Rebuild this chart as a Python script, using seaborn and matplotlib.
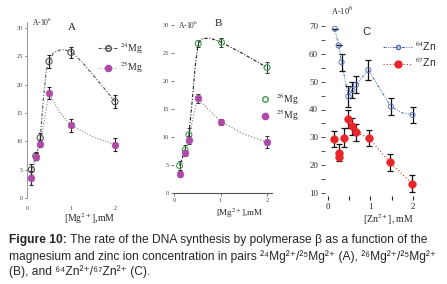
import matplotlib
matplotlib.use('Agg')
import matplotlib.pyplot as plt
import seaborn as sns
from matplotlib.lines import Line2D

sns.set_style('ticks')
plt.rcParams['font.family'] = ['Liberation Serif', 'DejaVu Serif']
plt.rcParams['mathtext.fontset'] = 'stix'

# ---- data ----
# panel A: 24Mg / 25Mg
a_x = [0.1, 0.2, 0.3, 0.5, 1.0, 2.0]
a_mg24 = [5.0, 7.4, 10.6, 24.1, 25.7, 17.0]
a_mg24_err = [1.0, 0.7, 0.8, 1.1, 1.0, 1.2]
a_mg25 = [3.5, 7.3, 9.6, 18.5, 12.8, 9.4]
a_mg25_err = [1.2, 0.6, 0.6, 1.1, 1.1, 1.1]
a_fit24_x = [0.1, 0.2, 0.3, 0.37, 0.44, 0.5, 0.6, 0.78, 1.0, 1.25, 1.5, 1.75, 2.0]
a_fit24_y = [5.0, 7.3, 10.5, 17.3, 22.6, 24.0, 25.6, 26.2, 25.9, 24.0, 21.7, 19.4, 17.0]
a_fit25_x = [0.1, 0.2, 0.3, 0.5, 0.75, 1.0, 1.5, 2.0]
a_fit25_y = [3.5, 7.3, 9.6, 18.5, 15.0, 12.8, 10.8, 9.4]

# panel B: 26Mg / 25Mg
b_x = [0.12, 0.24, 0.32, 0.52, 1.02, 2.0]
b_mg26 = [4.9, 7.7, 10.4, 26.7, 26.9, 22.4]
b_mg26_err = [0.8, 0.8, 1.2, 0.6, 0.8, 1.0]
b_mg25 = [3.4, 7.1, 9.5, 16.9, 12.7, 9.1]
b_mg25_err = [0.5, 0.5, 0.7, 0.8, 0.6, 1.0]
b_fit26_x = [0.12, 0.24, 0.32, 0.4, 0.46, 0.52, 0.6, 0.75, 1.0, 1.5, 2.0]
b_fit26_y = [4.9, 7.7, 10.4, 17.2, 23.0, 26.7, 27.5, 27.7, 27.0, 24.8, 22.4]
b_fit25_x = [0.32, 0.42, 0.52, 0.75, 1.02, 1.5, 2.0]
b_fit25_y = [9.5, 14.0, 16.9, 14.8, 12.7, 10.5, 9.1]

# panel C: 64Zn / 67Zn
c_zn64_x = [0.16, 0.25, 0.32, 0.48, 0.56, 0.66, 0.95, 1.48, 1.99]
c_zn64 = [69.0, 63.0, 57.0, 44.7, 47.0, 48.9, 54.2, 41.1, 38.1]
c_zn64_err = [0, 0, 3.0, 3.8, 3.0, 3.0, 3.6, 2.9, 2.8]
c_zn67_x = [0.15, 0.26, 0.27, 0.38, 0.48, 0.57, 0.66, 0.96, 1.46, 1.98]
c_zn67 = [29.4, 24.5, 22.8, 29.8, 36.6, 33.9, 31.8, 29.8, 21.0, 13.3]
c_zn67_err = [3.0, 3.0, 0, 3.4, 3.2, 3.0, 3.0, 3.0, 3.0, 3.0]
c_fit64_x = [0.16, 0.25, 0.32, 0.48, 0.56, 0.66, 0.95, 1.2, 1.48, 1.75, 1.99]
c_fit64_y = [69.0, 63.0, 57.0, 44.7, 47.0, 48.9, 54.2, 48.0, 41.1, 38.8, 38.1]
c_fit67_x = [0.48, 0.57, 0.66, 0.96, 1.46, 1.98]
c_fit67_y = [36.6, 33.9, 31.8, 29.8, 21.0, 13.3]

W, H = 447, 284
fig = plt.figure(figsize=(W / 100, H / 100), dpi=100)


def px_axes(left, top, right, bottom):
    return fig.add_axes([left / W, 1 - bottom / H, (right - left) / W, (bottom - top) / H])


magenta = '#b04aa8'
green = '#3a9a50'
blue = '#4a66b8'
red = '#e8262a'

# ---------------- A ----------------
axA = px_axes(27, 22.3, 121.6, 198)
sns.lineplot(x=a_fit24_x, y=a_fit24_y, ax=axA, color='#555555', lw=0.8, ls=(0, (3, 1.5, 1, 1.5)), sort=False)
sns.lineplot(x=a_fit25_x, y=a_fit25_y, ax=axA, color='#888888', lw=0.8, ls=(0, (1, 1.5)), sort=False)
axA.errorbar(a_x, a_mg24, yerr=a_mg24_err, fmt='none', ecolor='#222222', elinewidth=0.8, capsize=1.6, capthick=0.8)
axA.errorbar(a_x, a_mg25, yerr=a_mg25_err, fmt='none', ecolor='#222222', elinewidth=0.8, capsize=1.6, capthick=0.8)
sns.scatterplot(x=a_x, y=a_mg24, ax=axA, marker='o', s=20, facecolor='none', edgecolor='#444444', linewidth=0.7, zorder=4)
sns.scatterplot(x=a_x, y=a_mg25, ax=axA, marker='o', s=24, color=magenta, edgecolor=magenta, zorder=5)
axA.set_xlim(0, 2.15)
axA.set_ylim(0, 31)
axA.set_yticks([0, 5, 10, 15, 20, 25, 30])
axA.set_xticks([0, 1, 2])
for s in ['top', 'right', 'bottom']:
    axA.spines[s].set_visible(False)
axA.spines['left'].set_color('#888888')
axA.spines['left'].set_linewidth(0.6)
axA.tick_params(axis='y', labelsize=4.5, length=1.5, width=0.5, pad=1.5, colors='#444444')
axA.tick_params(axis='x', labelsize=4.5, length=0, pad=6, colors='#444444')
axA.text(0.05, 1.0, 'A-10$^{6}$', transform=axA.transAxes, fontsize=5.5, va='center')
axA.text(0.43, 0.97, 'A', transform=axA.transAxes, fontsize=8, va='center')
axA.text(0.93, -0.115, '[Mg$^{2+}$],mM', transform=axA.transAxes, fontsize=7, ha='right', va='center')
hA = [Line2D([], [], color='#555555', lw=0.8, ls=(0, (3, 1.5, 1, 1.5)), marker='o', ms=4,
             mfc='none', mec='#444444'),
      Line2D([], [], color='#aaaaaa', lw=0.8, ls=(0, (1, 1.5)), marker='o', ms=4.5,
             mfc=magenta, mec=magenta)]
fig.legend(hA, ['$^{24}$Mg', '$^{25}$Mg'], loc='upper left', bbox_to_anchor=(98 / W, 1 - 41 / H),
           frameon=False, fontsize=7, handlelength=2.0, handletextpad=0.3, labelspacing=0.35,
           borderpad=0, borderaxespad=0)

# ---------------- B ----------------
axB = px_axes(174, 25, 271.7, 193)
sns.lineplot(x=b_fit26_x, y=b_fit26_y, ax=axB, color='#222222', lw=0.8, ls=(0, (3, 1.5, 1, 1.5)), sort=False)
sns.lineplot(x=b_fit25_x, y=b_fit25_y, ax=axB, color='#777777', lw=0.8, ls=(0, (1, 1.8)), sort=False)
axB.errorbar(b_x, b_mg26, yerr=b_mg26_err, fmt='none', ecolor='#333333', elinewidth=0.7, capsize=1.6, capthick=0.7)
axB.errorbar(b_x, b_mg25, yerr=b_mg25_err, fmt='none', ecolor='#333333', elinewidth=0.7, capsize=1.6, capthick=0.7)
sns.scatterplot(x=b_x, y=b_mg26, ax=axB, marker='o', s=18, facecolor='none', edgecolor=green, linewidth=0.8, zorder=4)
sns.scatterplot(x=b_x, y=b_mg25, ax=axB, marker='o', s=24, color=magenta, edgecolor=magenta, zorder=5)
axB.set_xlim(0, 2.1)
axB.set_ylim(0, 30)
axB.set_yticks([0, 5, 10, 15, 20, 25, 30])
axB.set_xticks([0, 1, 2])
for s in ['top', 'right', 'left']:
    axB.spines[s].set_visible(False)
axB.spines['bottom'].set_color('#555555')
axB.spines['bottom'].set_linewidth(0.8)
axB.tick_params(axis='both', labelsize=4.5, length=2, width=0.5, pad=1.5, colors='#444444')
axB.text(0.04, 1.0, 'A-10$^{6}$', transform=axB.transAxes, fontsize=5.5, va='center')
axB.text(0.42, 1.01, 'B', transform=axB.transAxes, fontsize=8, va='center')
axB.text(0.91, -0.12, '[Mg$^{2+}$],mM', transform=axB.transAxes, fontsize=6.5, ha='right', va='center')
hB = [Line2D([], [], ls='none', marker='o', ms=4, mfc='none', mec=green),
      Line2D([], [], ls='none', marker='o', ms=4.5, mfc=magenta, mec=magenta)]
fig.legend(hB, ['$^{26}$Mg', '$^{25}$Mg'], loc='upper left', bbox_to_anchor=(260 / W, 1 - 91 / H),
           frameon=False, fontsize=7, handlelength=1, handletextpad=0.6, labelspacing=0.1,
           borderpad=0, borderaxespad=0)

# ---------------- C ----------------
axC = px_axes(325, 23.2, 417.2, 195.8)
sns.lineplot(x=c_fit64_x, y=c_fit64_y, ax=axC, color=blue, lw=0.7, ls=(0, (3, 1.5, 1, 1.5, 1, 1.5)), sort=False)
sns.lineplot(x=c_fit67_x, y=c_fit67_y, ax=axC, color=red, lw=0.8, ls=(0, (1, 2)), sort=False)
axC.errorbar(c_zn64_x, c_zn64, yerr=c_zn64_err, fmt='none', ecolor='#111111', elinewidth=0.9, capsize=2, capthick=0.9)
axC.errorbar(c_zn67_x, c_zn67, yerr=c_zn67_err, fmt='none', ecolor='#111111', elinewidth=0.9, capsize=2, capthick=0.9)
sns.scatterplot(x=c_zn64_x, y=c_zn64, ax=axC, marker='o', s=14, facecolor='none', edgecolor=blue, linewidth=0.6, zorder=4)
sns.scatterplot(x=c_zn67_x, y=c_zn67, ax=axC, marker='o', s=30, color=red, edgecolor=red, zorder=5)
axC.set_xlim(-0.07, 2.1)
axC.set_ylim(9, 71)
axC.set_yticks([10, 20, 30, 40, 50, 60, 70])
axC.set_yticks([15, 25, 35, 45, 55, 65], minor=True)
axC.set_xticks([0, 0.5, 1, 1.5, 2])
axC.set_xticklabels(['0', '', '1', '', '2'])
for s in ['top', 'right', 'left', 'bottom']:
    axC.spines[s].set_visible(False)
axC.tick_params(axis='y', which='both', labelsize=6.5, length=3, width=0.6, pad=2, colors='#333333')
axC.tick_params(axis='x', labelsize=6.5, length=3, width=0.8, pad=2, colors='#222222')
axC.text(0.07, 1.07, 'A-10$^{6}$', transform=axC.transAxes, fontsize=6, va='center')
axC.text(0.4, 0.95, 'C', transform=axC.transAxes, fontsize=8, va='center', family=['Liberation Sans', 'DejaVu Sans'])
axC.text(0.965, -0.137, '[Zn$^{2+}$], mM', transform=axC.transAxes, fontsize=7, ha='right', va='center')
hC = [Line2D([], [], color=blue, lw=0.7, ls=(0, (3, 1.5, 1, 1.5, 1, 1.5)), marker='o', ms=3,
             mfc='none', mec=blue),
      Line2D([], [], color=red, lw=0.8, ls=(0, (1, 2)), marker='o', ms=5, mfc=red, mec=red)]
fig.legend(hC, ['$^{64}$Zn', '$^{67}$Zn'], loc='upper left', bbox_to_anchor=(383 / W, 1 - 39 / H),
           frameon=False, handlelength=2.8, handletextpad=0.3, labelspacing=0.3,
           borderpad=0, borderaxespad=0, prop={'family': ['Liberation Sans', 'DejaVu Sans'], 'size': 7.5})

# ---------------- caption ----------------
cap_font = ['Liberation Sans', 'DejaVu Sans']
cap_size = 8.65
t0 = fig.text(9 / W, 1 - 240 / H, 'Figure 10:', fontsize=cap_size, weight='bold', family=cap_font, va='center')
fig.canvas.draw()
bb = t0.get_window_extent()
fig.text(bb.x1 / W, 1 - 240 / H, ' The rate of the DNA synthesis by polymerase β as a function of the',
         fontsize=cap_size, family=cap_font, va='center')
fig.text(9 / W, 1 - 256.5 / H,
         'magnesium and zinc ion concentration in pairs ²⁴Mg²⁺/²⁵Mg²⁺ (A), ²⁶Mg²⁺/²⁵Mg²⁺',
         fontsize=cap_size, family=cap_font, va='center')
fig.text(9 / W, 1 - 272 / H, '(B), and ⁶⁴Zn²⁺/⁶⁷Zn²⁺ (C).', fontsize=cap_size, family=cap_font, va='center')

fig.savefig('out.png', dpi=100)
